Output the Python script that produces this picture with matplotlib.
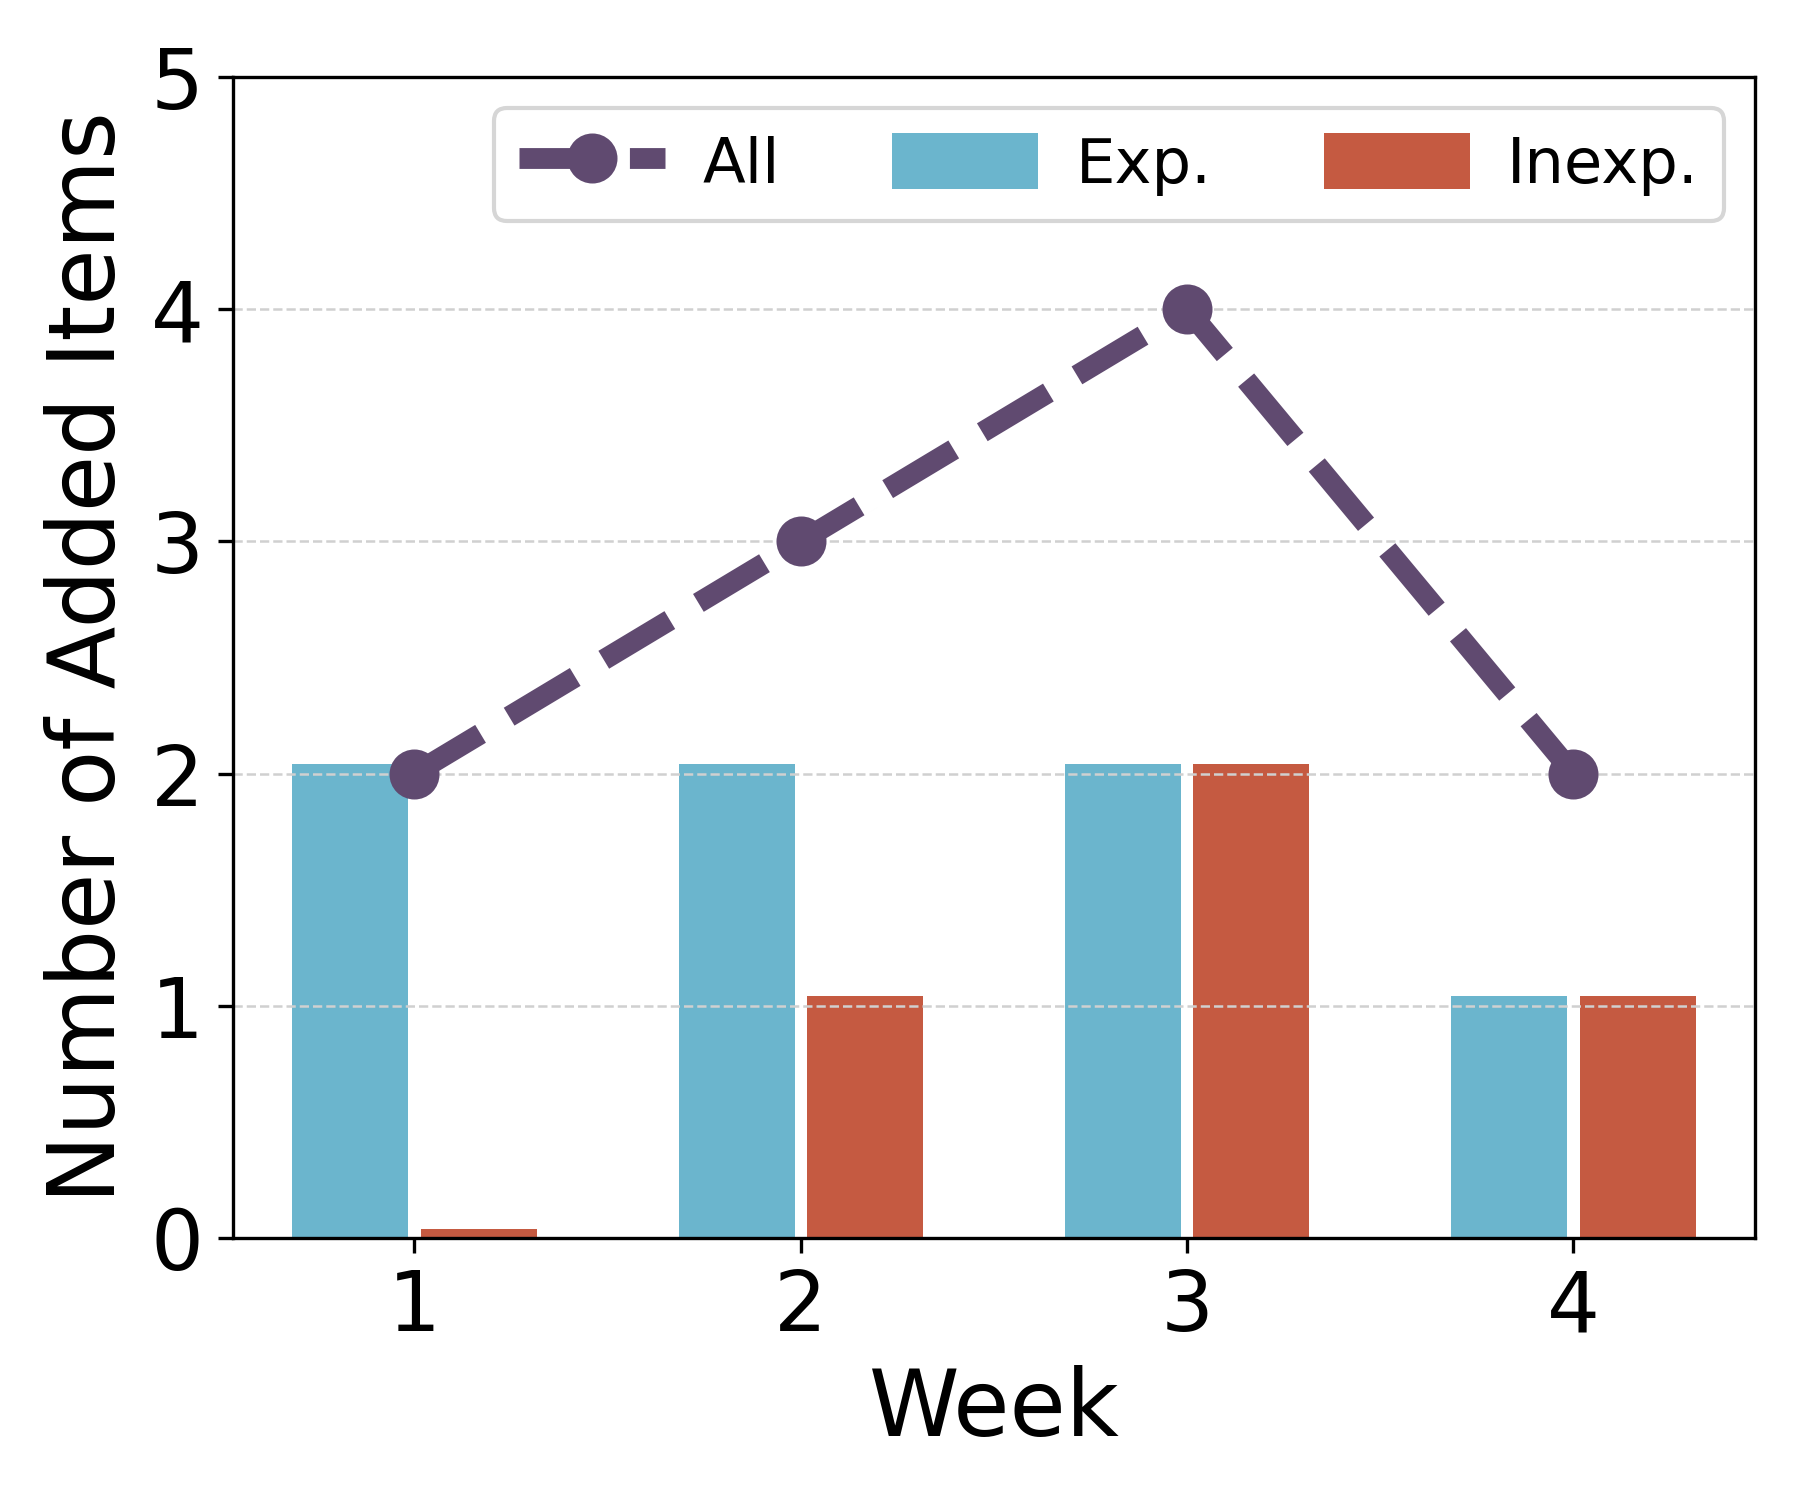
import matplotlib
matplotlib.use("Agg")
import matplotlib.pyplot as plt
import numpy as np

WEEKS = [1, 2, 3, 4]
ALL_ITEMS = [2, 3, 4, 2]
EXP_ITEMS = [2, 2, 2, 1]
INEXP_ITEMS = [0, 1, 2, 1]

COLOR_ALL = "#604a70"
COLOR_EXP = "#6bb5cd"
COLOR_INEXP = "#c55a41"

# small lift so that zero-height bars stay visible
BAR_LIFT = 0.04
BAR_W = 0.3
BAR_OFF = 0.166

plt.rcParams.update({"font.family": "DejaVu Sans"})

fig = plt.figure(figsize=(6, 5), dpi=300)
ax = fig.add_axes([0.1294, 0.1747, 0.975 - 0.1294, 0.9487 - 0.1747])

x = np.array(WEEKS, dtype=float)
ax.plot(x, ALL_ITEMS, linestyle="--", linewidth=5, marker="o",
        markersize=11, color=COLOR_ALL, label="All")
ax.bar(x - BAR_OFF, np.array(EXP_ITEMS) + BAR_LIFT, width=BAR_W,
       color=COLOR_EXP, label="Exp.")
ax.bar(x + BAR_OFF, np.array(INEXP_ITEMS) + BAR_LIFT, width=BAR_W,
       color=COLOR_INEXP, label="Inexp.")

ax.set_xlim(0.53, 4.47)
ax.set_ylim(0, 5)
ax.set_xticks(WEEKS)
ax.set_yticks([0, 1, 2, 3, 4, 5])
ax.tick_params(axis="both", labelsize=20)
ax.grid(True, axis="y", linestyle="--", linewidth=0.6, color="#d0d0d0")

ax.set_xlabel("Week", fontsize=22)
ax.set_ylabel("Number of Added Items", fontsize=22)

ax.legend(loc="upper right", ncol=3, fontsize=15,
          handlelength=2.33, handleheight=1.0,
          handletextpad=0.6, columnspacing=1.8)

fig.savefig("out.png", dpi=300)
